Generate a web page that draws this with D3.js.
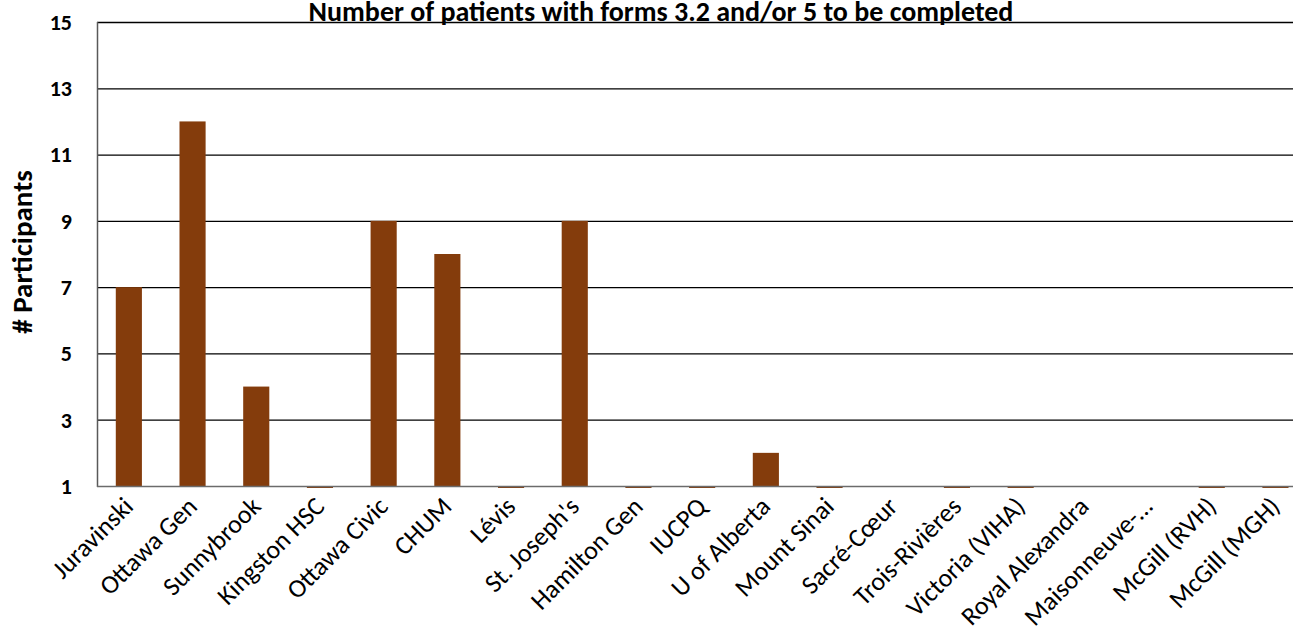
<!DOCTYPE html>
<html><head><meta charset="utf-8">
<script src="https://cdn.jsdelivr.net/npm/d3@7"></script>
<style>body{margin:0;background:#fff}svg{display:block}</style>
</head><body><svg id="c" width="1293" height="632"></svg>
<script>
const categories = ["Juravinski","Ottawa Gen","Sunnybrook","Kingston HSC","Ottawa Civic","CHUM","Lévis","St. Joseph's","Hamilton Gen","IUCPQ","U of Alberta","Mount Sinai","Sacré-Cœur","Trois-Rivières","Victoria (VIHA)","Royal Alexandra","Maisonneuve-…","McGill (RVH)","McGill (MGH)"];
const values = [7,12,4,1,9,8,1,9,1,1,2,1,0,1,1,0,0,1,1];
const yTicks = [1,3,5,7,9,11,13,15];
const title = "Number of patients with forms 3.2 and/or 5 to be completed";
const yTitle = "# Participants";

const svg = d3.select("#c");
const mLeft = 97, mTop = 22, mBottom = 486, mRight = 97 + 19*63.7;
const x = d3.scaleBand().domain(categories).range([mLeft, mRight]).paddingInner(0.59).paddingOuter(0.295);
const y = d3.scaleLinear().domain([1,15]).range([mBottom, mTop]);
const font = "Carlito, Lato, 'Open Sans', sans-serif";

// gridlines
svg.append("g").selectAll("line").data(yTicks.filter(d=>d>1)).join("line")
  .attr("x1", mLeft).attr("x2", mRight).attr("y1", d=>y(d)+0.5).attr("y2", d=>y(d)+0.5)
  .attr("stroke", "#000").attr("stroke-width", 1.3);

// bars
svg.append("g").selectAll("rect").data(categories.map((c,i)=>({c, v: values[i]})).filter(d=>d.v>=1)).join("rect")
  .attr("x", d=>x(d.c)).attr("width", x.bandwidth())
  .attr("y", d=>y(d.v)).attr("height", d=>Math.max(y(1)-y(d.v), 0) + (d.v===1 ? 2 : 0))
  .attr("fill", "#843C0C");

// axes
svg.append("line").attr("x1", mLeft+0.5).attr("x2", mLeft+0.5).attr("y1", mTop).attr("y2", mBottom+1)
  .attr("stroke", "#595959").attr("stroke-width", 1.5);
svg.append("line").attr("x1", mLeft).attr("x2", mRight).attr("y1", mBottom+0.5).attr("y2", mBottom+0.5)
  .attr("stroke", "#6b6b6b").attr("stroke-width", 1.5);

// y tick labels
svg.append("g").selectAll("text").data(yTicks).join("text")
  .attr("x", 72).attr("y", d=>y(d)).attr("dy", "0.36em").attr("text-anchor", "end")
  .attr("font-family", font).attr("font-weight", "bold").attr("font-size", 22).attr("fill", "#000")
  .text(d=>d);

// x labels
svg.append("g").selectAll("text").data(categories).join("text")
  .attr("transform", d=>`translate(${x(d)+x.bandwidth()/2+6},${508}) rotate(-45)`)
  .attr("text-anchor", "end")
  .attr("font-family", font).attr("font-size", 26).attr("fill", "#000")
  .text(d=>d);

// title
svg.append("text").attr("x", 661).attr("y", 21).attr("text-anchor", "middle")
  .attr("font-family", font).attr("font-weight", "bold").attr("font-size", 28).attr("fill", "#000")
  .text(title);

// y title
svg.append("text").attr("transform", "translate(32,252) rotate(-90)").attr("text-anchor", "middle")
  .attr("font-family", font).attr("font-weight", "bold").attr("font-size", 29).attr("fill", "#000")
  .text(yTitle);
</script></body></html>
